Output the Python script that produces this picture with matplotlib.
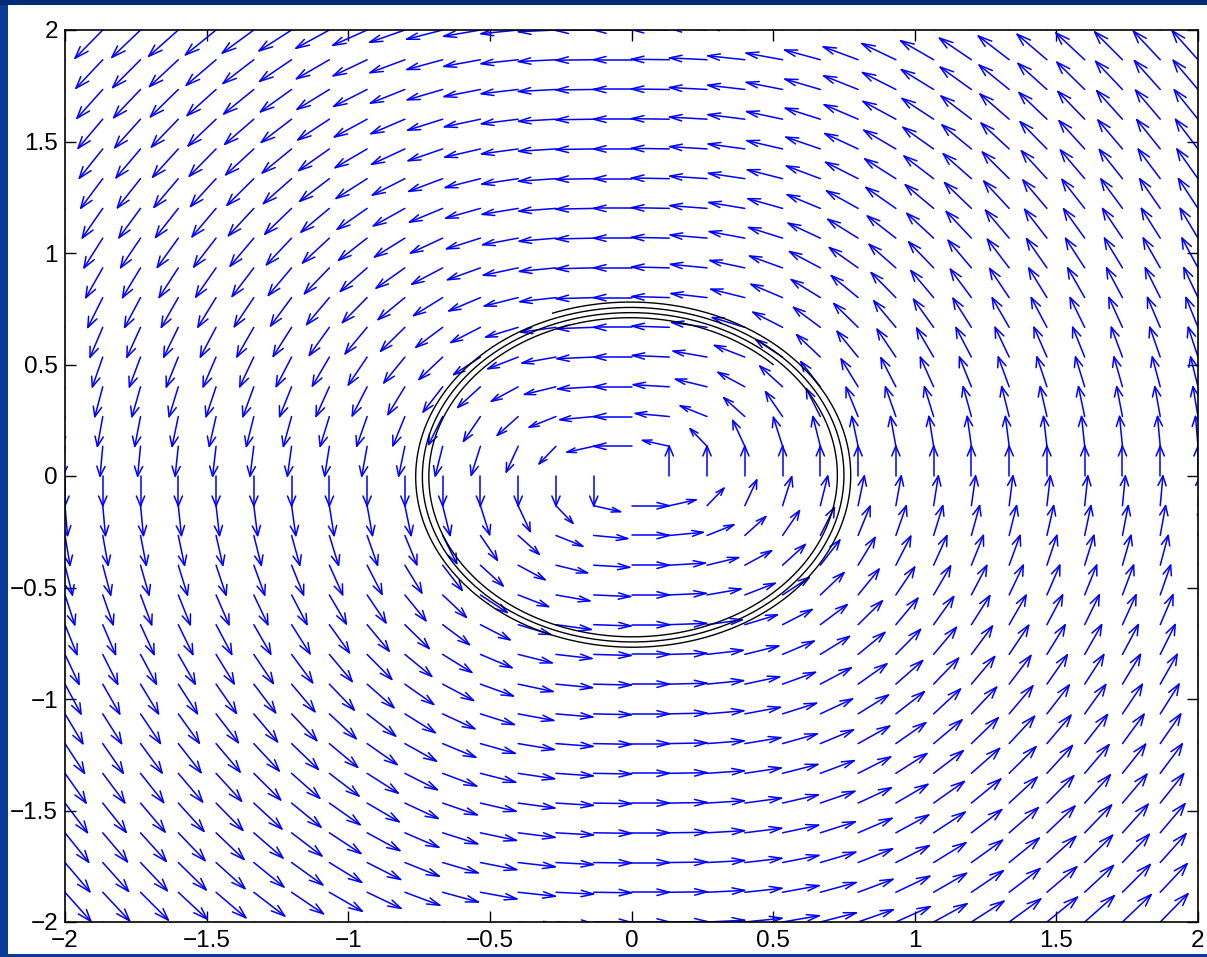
import numpy as np
import matplotlib
matplotlib.use("Agg")
import matplotlib.pyplot as plt
from matplotlib.collections import LineCollection
from matplotlib.patches import Rectangle

# ---------------- data ----------------
grid_x = np.linspace(-2, 2, 31)
grid_y = np.linspace(-2, 2, 31)
arrow_len = 0.134          # arrow length along the axes (data units)
spread = 0.6               # width of the slow band of the vertical component
# Euler trajectory of x' = -y, y' = x
euler_start = (0.5, 0.5)
euler_h = 0.01
euler_steps = 2000
xticks = [-2, -1.5, -1, -0.5, 0, 0.5, 1, 1.5, 2]
yticks = [-2, -1.5, -1, -0.5, 0, 0.5, 1, 1.5, 2]

# ---------------- figure ----------------
plt.rcParams['font.family'] = ['Liberation Sans', 'DejaVu Sans']
W, H = 1207, 957
fig = plt.figure(figsize=(W / 100, H / 100), dpi=100)
fig.patch.set_facecolor('#0a3a98')
fig.add_artist(Rectangle((0, 1 - 5 / H), 1, 5 / H, transform=fig.transFigure,
                         facecolor='#032c78', edgecolor='none', zorder=-2))
fig.add_artist(Rectangle((8 / W, 3 / H), 1 - 8 / W, 1 - 8 / H,
                         transform=fig.transFigure,
                         facecolor='white', edgecolor='none', zorder=-1))

ax_l, ax_r, ax_t, ax_b = 65, 1198, 30, 922
ax = fig.add_axes([ax_l / W, 1 - ax_b / H, (ax_r - ax_l) / W, (ax_b - ax_t) / H])
ax.set_facecolor('white')

# vector field
X, Y = np.meshgrid(grid_x, grid_y)
R = np.hypot(X, Y)
R[R == 0] = 1.0
on_axis = np.abs(Y) < 1e-9
with np.errstate(divide='ignore', invalid='ignore'):
    F = np.sign(X) * (1 - np.exp(-X**2 / (spread * np.abs(Y))))
F = np.where(on_axis, np.sign(X), F)
U = -arrow_len * Y / R
V = arrow_len * F

# MATLAB-style arrows (shaft + two barbs in data units)
alpha, beta = 0.33, 0.33
segs = []
for xi, yi, ui, vi in zip(X.ravel(), Y.ravel(), U.ravel(), V.ravel()):
    segs.append([(xi, yi), (xi + ui, yi + vi)])
    tx, ty = xi + ui, yi + vi
    segs.append([(tx - alpha * (ui + beta * vi), ty - alpha * (vi - beta * ui)),
                 (tx, ty),
                 (tx - alpha * (ui - beta * vi), ty - alpha * (vi + beta * ui))])
lc = LineCollection(segs, colors=(0, 0, 1), linewidths=1.1, capstyle='round')
ax.add_collection(lc)

# Euler trajectory
px, py = [euler_start[0]], [euler_start[1]]
for _ in range(euler_steps):
    xn, yn = px[-1], py[-1]
    px.append(xn - euler_h * yn)
    py.append(yn + euler_h * xn)
ax.plot(px, py, color='black', lw=1.0)

ax.set_xlim(-2, 2)
ax.set_ylim(-2, 2)
ax.set_xticks(xticks)
ax.set_yticks(yticks)
ax.set_xticklabels([('%g' % t).replace('-', '\u2212') for t in xticks])
ax.set_yticklabels([('%g' % t).replace('-', '\u2212') for t in yticks])
ax.tick_params(direction='in', length=8, width=1.0, top=True, right=True,
               labelsize=17.5, colors='black')
ax.tick_params(axis='x', pad=6)
ax.tick_params(axis='y', pad=5)
for s in ax.spines.values():
    s.set_linewidth(1.2)
    s.set_color('black')

fig.savefig('out.png', dpi=100, facecolor=fig.get_facecolor())
